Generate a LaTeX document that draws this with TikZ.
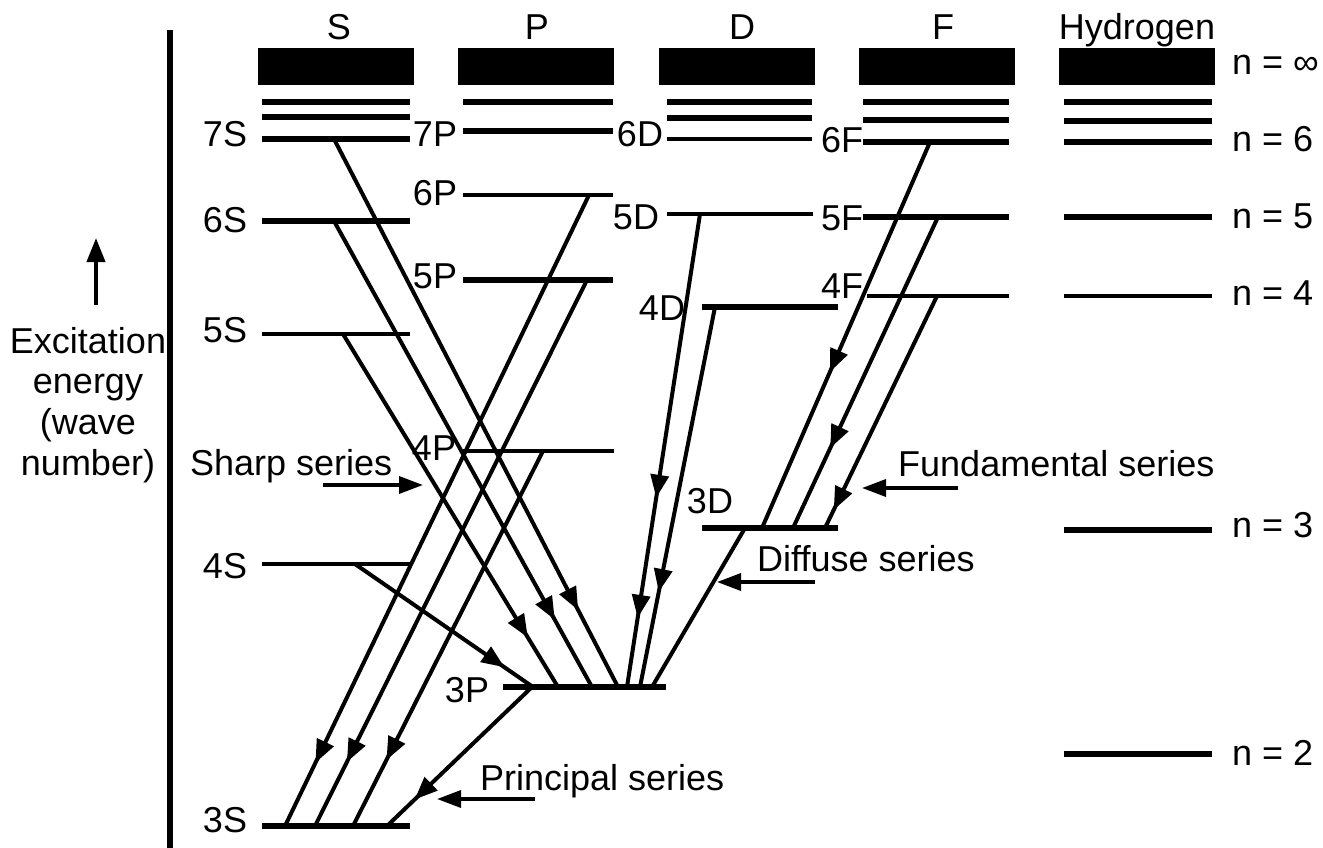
\documentclass[tikz,border=0pt]{standalone}
\usepackage{fontspec}
\setmainfont{Liberation Sans}
\usetikzlibrary{arrows.meta,decorations.markings}

\begin{document}
\begin{tikzpicture}[x=1pt,y=-1pt,
  every node/.style={inner sep=0pt, font=\fontsize{36}{41}\selectfont},
  lbl/.style={anchor=base},
  lblw/.style={anchor=base west},
  thicklev/.style={line width=6.5pt},
  thinlev/.style={line width=4.5pt},
  trans/.style={line width=4pt},
  tipmark/.style={postaction={decorate}, decoration={markings,
      mark=at position #1 with {\arrow{Triangle[length=23pt,width=18pt]}}}},
  tipmarks/.style 2 args={postaction={decorate}, decoration={markings,
      mark=at position #1 with {\arrow{Triangle[length=23pt,width=18pt]}},
      mark=at position #2 with {\arrow{Triangle[length=23pt,width=18pt]}}}},
  pointer/.style={line width=3.5pt, -{Triangle[length=24pt,width=17pt]}}]

\useasboundingbox (0,0) rectangle (1323,848);

% energy axis
\coordinate (axTop) at (170,30);
\coordinate (axBot) at (170,848);
\draw[line width=6pt] (axTop) -- (axBot);
\coordinate (upA) at (96,305);
\coordinate (upB) at (96,238);
\draw[line width=4pt, -{Triangle[length=24pt,width=18pt]}] (upA) -- (upB);
\node[lbl] (ax1) at (88,353) {Excitation};
\node[lbl] (ax2) at (88,393) {energy};
\node[lbl] (ax3) at (88,434) {(wave};
\node[lbl] (ax4) at (88,475) {number)};

% column headings
\node[lbl] (hS) at (339,40) {S};
\node[lbl] (hP) at (537,40) {P};
\node[lbl] (hD) at (742,40) {D};
\node[lbl] (hF) at (943,40) {F};
\node[lbl] (hH) at (1137,40) {Hydrogen};

% ionisation continua
\fill (258,48) rectangle (414,85);
\fill (458,48) rectangle (614,85);
\fill (659,48) rectangle (815,85);
\fill (859,48) rectangle (1015,85);
\fill (1059,48) rectangle (1215,85);

% S terms
\foreach \y in {102,117,139,221} \draw[thicklev] (262,\y) -- (410,\y);
\draw[thinlev] (262,334) -- (410,334);
\draw[thinlev] (262,564) -- (410,564);
\draw[thicklev] (262,826) -- (410,826);
% P terms
\draw[thicklev] (463,102) -- (613,102);
\draw[thicklev] (463,131) -- (613,131);
\draw[thinlev] (463,195) -- (613,195);
\draw[thicklev] (463,280) -- (613,280);
\draw[thinlev] (463,451) -- (614,451);
\draw[thicklev] (503,687) -- (666,687);
% D terms
\draw[thicklev] (667,102) -- (812,102);
\draw[thicklev] (667,118) -- (812,118);
\draw[thinlev] (667,139) -- (812,139);
\draw[thinlev] (667,214) -- (813,214);
\draw[thicklev] (702,307) -- (838,307);
\draw[thicklev] (702,528) -- (838,528);
% F terms
\foreach \y in {102,120,142,217} \draw[thicklev] (863,\y) -- (1009,\y);
\draw[thinlev] (867,296) -- (1009,296);
% hydrogen levels
\foreach \y in {102,121,142,217,530,754} \draw[thicklev] (1064,\y) -- (1212,\y);
\draw[thinlev] (1064,296) -- (1212,296);

% term labels
\node[lbl] (l7S) at (225,147) {7S};
\node[lbl] (l6S) at (225,232) {6S};
\node[lbl] (l5S) at (225,342) {5S};
\node[lbl] (l4S) at (225,578) {4S};
\node[lbl] (l3S) at (225,832) {3S};
\node[lbl] (l7P) at (435,147) {7P};
\node[lbl] (l6P) at (435,205) {6P};
\node[lbl] (l5P) at (435,288) {5P};
\node[lbl] (l4P) at (434,460) {4P};
\node[lbl] (l3P) at (467,702) {3P};
\node[lbl] (l6D) at (640,147) {6D};
\node[lbl] (l5D) at (636,229) {5D};
\node[lbl] (l4D) at (662,320) {4D};
\node[lbl] (l3D) at (710,513) {3D};
\node[lbl] (l6F) at (842,153) {6F};
\node[lbl] (l5F) at (842,230) {5F};
\node[lbl] (l4F) at (842,298) {4F};
\node[lblw] (nInf) at (1232,75) {n = ∞};
\node[lblw] (n6) at (1232,152) {n = 6};
\node[lblw] (n5) at (1232,228) {n = 5};
\node[lblw] (n4) at (1232,305) {n = 4};
\node[lblw] (n3) at (1232,537) {n = 3};
\node[lblw] (n2) at (1232,765) {n = 2};

% end points of the transitions
\coordinate (S7) at (334,139);
\coordinate (S6) at (334,221);
\coordinate (S5) at (343,334);
\coordinate (S4) at (355,564);
\coordinate (P6) at (589,195);
\coordinate (P5) at (587,280);
\coordinate (P4) at (543,451);
\coordinate (P3o) at (532,687);
\coordinate (P3a) at (533,687);
\coordinate (P3b) at (558,687);
\coordinate (P3c) at (592,687);
\coordinate (P3d) at (618,687);
\coordinate (P3e) at (627,687);
\coordinate (P3f) at (640,687);
\coordinate (P3g) at (652,687);
\coordinate (S3a) at (285,826);
\coordinate (S3b) at (315,826);
\coordinate (S3c) at (353,826);
\coordinate (S3d) at (387,826);
\coordinate (D5) at (700,214);
\coordinate (D4) at (715,307);
\coordinate (D3) at (745,528);
\coordinate (D3a) at (762,528);
\coordinate (D3b) at (793,528);
\coordinate (D3c) at (825,528);
\coordinate (F6) at (930,142);
\coordinate (F5) at (938,217);
\coordinate (F4) at (937,296);

% sharp series
\draw[trans, tipmark=0.86] (S7) -- (P3d);
\draw[trans, tipmark=0.856] (S6) -- (P3c);
\draw[trans, tipmark=0.86] (S5) -- (P3b);
\draw[trans, tipmark=0.84] (S4) -- (P3a);
% principal series
\draw[trans, tipmark=0.9] (P6) -- (S3a);
\draw[trans, tipmark=0.883] (P5) -- (S3b);
\draw[trans, tipmark=0.824] (P4) -- (S3c);
\draw[trans, tipmark=0.81] (P3o) -- (S3d);
% diffuse series
\draw[trans, tipmarks={0.6}{0.854}] (D5) -- (P3e);
\draw[trans, tipmark=0.75] (D4) -- (P3f);
\draw[trans] (D3) -- (P3g);
% fundamental series
\draw[trans, tipmark=0.596] (F6) -- (D3a);
\draw[trans, tipmark=0.743] (F5) -- (D3b);
\draw[trans, tipmark=0.922] (F4) -- (D3c);

% series names with pointers
\node[lblw] (tSharp) at (190,475) {Sharp series};
\node[lblw] (tFund) at (898,476) {Fundamental series};
\node[lblw] (tDiff) at (757,571) {Diffuse series};
\node[lblw] (tPrin) at (480,790) {Principal series};
\coordinate (shA) at (323,485);
\coordinate (shB) at (423,485);
\coordinate (fuA) at (958,488);
\coordinate (fuB) at (862,488);
\coordinate (diA) at (815,582);
\coordinate (diB) at (717,582);
\coordinate (prA) at (535,799);
\coordinate (prB) at (437,799);
\draw[pointer] (shA) -- (shB);
\draw[pointer] (fuA) -- (fuB);
\draw[pointer] (diA) -- (diB);
\draw[pointer] (prA) -- (prB);
\end{tikzpicture}
\end{document}
